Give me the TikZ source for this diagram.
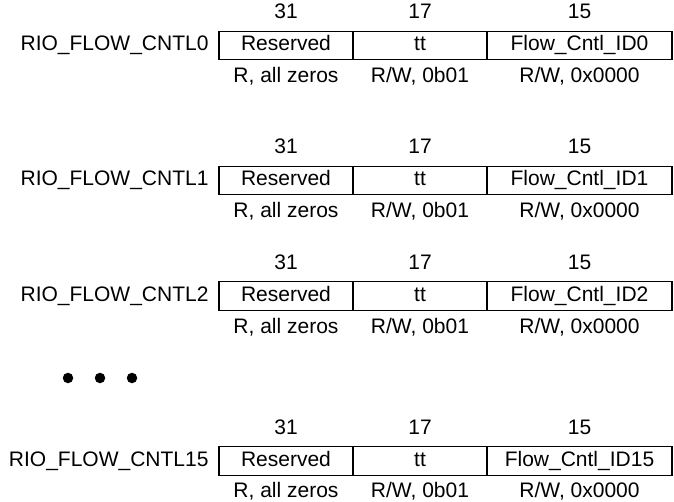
\documentclass[tikz,border=0pt]{standalone}
\usepackage{fontspec}
\setmainfont{Liberation Sans}
\usetikzlibrary{positioning}

\begin{document}
\begin{tikzpicture}[x=1pt,y=-1pt,
  font=\fontsize{21}{24}\selectfont,
  every node/.style={text height=15pt,text depth=4pt},
  cell/.style={draw,line width=1.4pt,minimum height=28.5pt,inner sep=0pt,outer sep=0pt},
  rsv/.style={cell,minimum width=134pt},
  ttf/.style={cell,minimum width=134pt},
  idf/.style={cell,minimum width=185pt},
  regname/.style={anchor=east},
  dot/.style={circle,fill,inner sep=0pt,minimum size=10.5pt,text height=,text depth=}]
\useasboundingbox (0,0) rectangle (674,502);
% register 0
\node[regname] (l0) at (212,45.5) {RIO\_FLOW\_CNTL0};
\node[rsv] (r0a) at (286,45.5) {Reserved};
\node[ttf] (r0b) at (420,45.5) {tt};
\node[idf] (r0c) at (579.5,45.5) {Flow\_Cntl\_ID0};
\node (b0a) at (286,13.5) {31};
\node (b0b) at (420,13.5) {17};
\node (b0c) at (579.5,13.5) {15};
\node (a0a) at (286,77.5) {R, all zeros};
\node (a0b) at (420,77.5) {R/W, 0b01};
\node (a0c) at (579.5,77.5) {R/W, 0x0000};
% register 1
\node[regname] (l1) at (212,180.5) {RIO\_FLOW\_CNTL1};
\node[rsv] (r1a) at (286,180.5) {Reserved};
\node[ttf] (r1b) at (420,180.5) {tt};
\node[idf] (r1c) at (579.5,180.5) {Flow\_Cntl\_ID1};
\node (b1a) at (286,148.5) {31};
\node (b1b) at (420,148.5) {17};
\node (b1c) at (579.5,148.5) {15};
\node (a1a) at (286,212.5) {R, all zeros};
\node (a1b) at (420,212.5) {R/W, 0b01};
\node (a1c) at (579.5,212.5) {R/W, 0x0000};
% register 2
\node[regname] (l2) at (212,296) {RIO\_FLOW\_CNTL2};
\node[rsv] (r2a) at (286,296) {Reserved};
\node[ttf] (r2b) at (420,296) {tt};
\node[idf] (r2c) at (579.5,296) {Flow\_Cntl\_ID2};
\node (b2a) at (286,264) {31};
\node (b2b) at (420,264) {17};
\node (b2c) at (579.5,264) {15};
\node (a2a) at (286,328) {R, all zeros};
\node (a2b) at (420,328) {R/W, 0b01};
\node (a2c) at (579.5,328) {R/W, 0x0000};
% dots
\node[dot] (d1) at (68,378) {};
\node[dot] (d2) at (100,378) {};
\node[dot] (d3) at (132,378) {};
% register 15
\node[regname] (l15) at (212,461) {RIO\_FLOW\_CNTL15};
\node[rsv] (r15a) at (286,461) {Reserved};
\node[ttf] (r15b) at (420,461) {tt};
\node[idf] (r15c) at (579.5,461) {Flow\_Cntl\_ID15};
\node (b15a) at (286,429) {31};
\node (b15b) at (420,429) {17};
\node (b15c) at (579.5,429) {15};
\node (a15a) at (286,492) {R, all zeros};
\node (a15b) at (420,492) {R/W, 0b01};
\node (a15c) at (579.5,492) {R/W, 0x0000};
\end{tikzpicture}
\end{document}
